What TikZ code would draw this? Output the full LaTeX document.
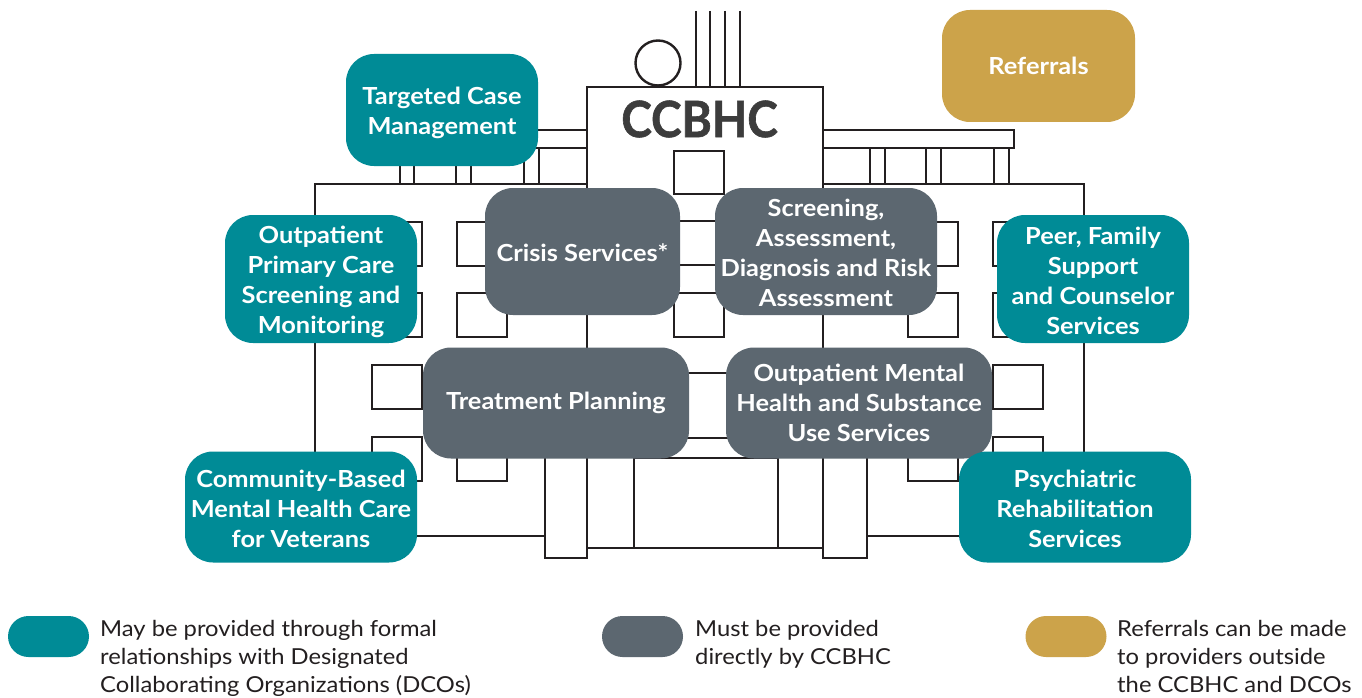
\documentclass[tikz,border=0pt]{standalone}
\usepackage{fontspec}
\setmainfont{Lato}[FakeStretch=1.08]
\newfontfamily\titlefont{Lato}[FakeStretch=0.92, BoldFeatures={FakeBold=1.2}]
\definecolor{ccteal}{HTML}{008B96}
\definecolor{ccgrey}{HTML}{5C6770}
\definecolor{ccgold}{HTML}{CCA34A}
\definecolor{ccline}{HTML}{231F20}
\definecolor{cctitle}{HTML}{3C3C3C}
\tikzset{
  bld/.style={draw=ccline, line width=2.4pt, fill=white},
  bldline/.style={draw=ccline, line width=2.4pt},
  svc/.style={rounded corners=28pt, inner sep=0pt},
  svctext/.style={text=white, inner sep=0pt, align=center,
    font=\fontsize{23.5}{30}\selectfont\bfseries},
  dco/.style={svc, fill=ccteal},
  own/.style={svc, fill=ccgrey},
  ref/.style={svc, fill=ccgold},
  pill/.style={rounded corners=20.5pt, minimum width=81pt, minimum height=41pt, inner sep=0pt},
  legtext/.style={anchor=north west, inner sep=0pt, align=left, text=ccline,
    font=\fontsize{22}{28}\selectfont},
}
\begin{document}
\begin{tikzpicture}[x=1pt,y=-1pt]
\useasboundingbox[fill=white] (0,0) rectangle (1362,698);
% ---- building ----
\draw[bld] (315,184) rectangle (1084,536);
\draw[bld] (396,130) rectangle (587,148);
\draw[bld] (823,130) rectangle (1014,148);
\foreach \a/\b in {400/414,456/471,524/539,870/885,926/941,994/1009}
  \draw[bld] (\a,148) rectangle (\b,184);
\draw[bld] (587,87) rectangle (823,548);
% wing windows
\foreach \a/\b in {372/422,457/507,908/958,993/1043}
  \foreach \c/\d in {222/266,293/337,365/409,437/481}
    \draw[bld] (\a,\c) rectangle (\b,\d);
% tower windows
\foreach \c/\d in {151/194,221/265,293/337}
  \draw[bld] (674,\c) rectangle (724,\d);
\draw[bld] (640,373) rectangle (770,438);
% pillars and door
\draw[bld] (545,440) rectangle (587,558);
\draw[bld] (823,440) rectangle (867,558);
\draw[bld] (634,458) rectangle (778,548);
% roof items
\foreach \x in {696,710,725,740}
  \draw[bldline] (\x,11) -- (\x,87);
\draw[bld] (658,63) circle[radius=22.5pt];
\node[font=\titlefont\fontsize{50}{50}\selectfont\bfseries, text=cctitle, inner sep=0pt] (title) at (699.5,119) {CCBHC};
% ---- services ----
\node[dco, minimum width=192pt, minimum height=112pt] (tcm) at (442,110) {};
\node[svctext] (tcmt) at ([yshift=-2.5pt]tcm.center) {Targeted Case\\Management};
\node[ref, minimum width=193pt, minimum height=112pt] (refs) at (1038.5,66) {};
\node[svctext] (refst) at (refs.center) {Referrals};
\node[dco, minimum width=192pt, minimum height=128pt] (opc) at (321,279) {};
\node[svctext] (opct) at ([yshift=-3pt]opc.center) {Outpatient\\Primary Care\\Screening and\\Monitoring};
\node[own, minimum width=195pt, minimum height=127pt] (crisis) at (582.5,251.5) {};
\node[svctext] (crisist) at ([yshift=-1pt]crisis.center) {Crisis Services*};
\node[own, minimum width=222pt, minimum height=127pt] (screen) at (826,251.5) {};
\node[svctext] (screent) at ([yshift=-1pt]screen.center) {Screening,\\Assessment,\\Diagnosis and Risk\\Assessment};
\node[dco, minimum width=192pt, minimum height=128pt] (peer) at (1093,279) {};
\node[svctext] (peert) at ([yshift=-1.5pt]peer.center) {Peer, Family\\Support\\and Counselor\\Services};
\node[own, minimum width=266pt, minimum height=111pt] (treat) at (556,403) {};
\node[svctext] (treatt) at (treat.center) {Treatment Planning};
\node[own, minimum width=266pt, minimum height=111pt] (omh) at (859,403) {};
\node[svctext] (omht) at (omh.center) {Outpatient Mental\\Health and Substance\\Use Services};
\node[dco, minimum width=232pt, minimum height=111pt] (vet) at (301,507) {};
\node[svctext] (vett) at ([yshift=-1.5pt]vet.center) {Community-Based\\Mental Health Care\\for Veterans};
\node[dco, minimum width=232pt, minimum height=111pt] (psy) at (1075,507) {};
\node[svctext] (psyt) at ([yshift=-1.5pt]psy.center) {Psychiatric\\Rehabilitation\\Services};
% ---- legend ----
\node[pill, fill=ccteal] (lg1) at (48.5,636.5) {};
\node[legtext] (lt1) at (100,620) {May be provided through formal\\relationships with Designated\\Collaborating Organizations (DCOs)};
\node[pill, fill=ccgrey] (lg2) at (642.5,636.5) {};
\node[legtext] (lt2) at (695,620) {Must be provided\\directly by CCBHC};
\node[pill, fill=ccgold] (lg3) at (1066,636.5) {};
\node[legtext] (lt3) at (1117,620) {Referrals can be made\\to providers outside\\the CCBHC and DCOs};
\end{tikzpicture}
\end{document}
